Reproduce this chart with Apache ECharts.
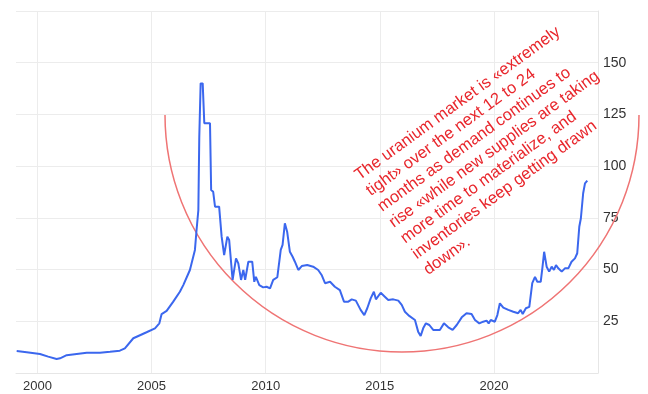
<!DOCTYPE html>
<html>
<head>
<meta charset="utf-8">
<script src="https://cdn.jsdelivr.net/npm/echarts@6/dist/echarts.min.js"></script>
<style>
  html, body { margin: 0; padding: 0; background: #fff; }
  #main { width: 648px; height: 394px; }
</style>
</head>
<body>
<div id="main"></div>
<script>
// uranium spot price (year, USD/lb)
var years = [1999.09, 1999.53, 2000.11, 2000.47, 2000.84, 2000.99, 2001.28, 2001.72, 2002.16, 2002.74,
  2003.18, 2003.61, 2003.83, 2004.20, 2004.42, 2004.78, 2005.15, 2005.34, 2005.44, 2005.66,
  2005.95, 2006.24, 2006.39, 2006.68, 2006.90, 2006.97, 2007.05, 2007.09, 2007.15, 2007.24,
  2007.31, 2007.56, 2007.61, 2007.70, 2007.78, 2007.96, 2008.07, 2008.18, 2008.32, 2008.40,
  2008.55, 2008.70, 2008.80, 2008.92, 2009.02, 2009.10, 2009.24, 2009.41, 2009.50, 2009.57,
  2009.72, 2009.89, 2010.04, 2010.19, 2010.33, 2010.51, 2010.66, 2010.74, 2010.84, 2010.94,
  2011.06, 2011.18, 2011.28, 2011.43, 2011.58, 2011.82, 2012.08, 2012.30, 2012.45, 2012.60,
  2012.82, 2013.03, 2013.25, 2013.43, 2013.62, 2013.77, 2013.95, 2014.16, 2014.32, 2014.45,
  2014.60, 2014.74, 2014.83, 2015.04, 2015.22, 2015.37, 2015.59, 2015.81, 2015.96, 2016.10,
  2016.29, 2016.54, 2016.68, 2016.79, 2016.90, 2017.02, 2017.17, 2017.34, 2017.63, 2017.81,
  2018.00, 2018.19, 2018.37, 2018.59, 2018.80, 2019.02, 2019.17, 2019.36, 2019.53, 2019.68,
  2019.77, 2019.86, 2020.04, 2020.15, 2020.26, 2020.41, 2020.63, 2020.85, 2021.06, 2021.17,
  2021.26, 2021.40, 2021.55, 2021.68, 2021.80, 2021.90, 2022.05, 2022.13, 2022.20, 2022.31,
  2022.42, 2022.53, 2022.63, 2022.72, 2022.82, 2022.97, 2023.11, 2023.26, 2023.40, 2023.55,
  2023.65, 2023.74, 2023.81, 2023.91, 2023.99, 2024.09];
var prices = [10.6, 10.0, 9.2, 7.9, 6.8, 7.1, 8.6, 9.2, 9.8, 9.8,
  10.3, 10.8, 11.9, 16.8, 17.9, 19.7, 21.6, 24.0, 28.5, 30.0,
  34.5, 39.3, 42.5, 49.8, 59.5, 69.0, 78.8, 114, 140, 140,
  120.7, 120.7, 88.5, 87.6, 80.4, 80.4, 65.9, 57.0, 65.9, 64.3,
  45.0, 55.4, 53.0, 45.0, 49.8, 45.0, 53.8, 53.8, 44.1, 46.5,
  42.5, 41.4, 41.7, 40.9, 45.0, 46.3, 59.5, 61.9, 72.4, 68.3,
  58.6, 56.2, 53.8, 49.8, 51.7, 52.2, 51.4, 49.8, 47.4, 43.4,
  44.1, 41.7, 40.1, 34.5, 34.5, 35.6, 35.0, 30.5, 28.0, 31.3,
  36.1, 39.3, 35.6, 38.8, 36.9, 35.3, 35.6, 35.0, 32.9, 29.6,
  27.6, 25.6, 20.0, 17.9, 21.6, 24.0, 23.2, 20.8, 20.8, 24.0,
  22.1, 20.8, 23.2, 26.9, 28.9, 28.5, 25.6, 24.0, 24.8, 25.3,
  24.0, 25.6, 24.8, 28.0, 33.7, 31.6, 30.5, 29.6, 28.9, 30.5,
  28.5, 31.3, 32.0, 43.4, 46.5, 44.1, 44.1, 51.4, 58.6, 51.4,
  49.0, 51.4, 49.8, 52.2, 50.6, 49.0, 50.6, 50.6, 53.8, 55.4,
  57.9, 70.7, 74.8, 86.9, 91.7, 93.0];
var yearTicks = [2000, 2005, 2010, 2015, 2020];
var priceTicks = [25, 50, 75, 100, 125, 150];
var note = [
  'The uranium market is \u00abextremely',
  'tight\u00bb over the next 12 to 24',
  'months as demand continues to',
  'rise \u00abwhile new supplies are taking',
  'more time to materialize, and',
  'inventories keep getting drawn',
  'down\u00bb.'
];

var seriesData = years.map(function (y, i) { return [y, prices[i]]; });

var myChart = echarts.init(document.getElementById('main'));
myChart.setOption({
  animation: false,
  grid: { left: 16, right: 50, top: 11, bottom: 21 },
  xAxis: {
    type: 'value',
    min: 1999.06,
    max: 2024.56,
    axisLine: { show: true, lineStyle: { color: '#e6e6e6' } },
    axisTick: { show: false, customValues: yearTicks },
    axisLabel: {
      customValues: yearTicks,
      color: '#333',
      fontSize: 13,
      fontFamily: 'Liberation Sans',
      margin: 7,
      formatter: function (v) { return String(v); }
    },
    splitLine: { show: true, lineStyle: { color: '#ececec' } }
  },
  yAxis: {
    type: 'value',
    position: 'right',
    min: 0,
    max: 175,
    interval: 25,
    axisLine: { show: true, lineStyle: { color: '#e6e6e6' } },
    axisTick: { show: false },
    axisLabel: {
      color: '#333',
      fontSize: 14,
      fontFamily: 'Liberation Sans',
      margin: 5,
      formatter: function (v) { return priceTicks.indexOf(v) >= 0 ? String(v) : ''; }
    },
    splitLine: { show: true, lineStyle: { color: '#ececec' } }
  },
  series: [{
    type: 'line',
    data: seriesData,
    showSymbol: false,
    lineStyle: { color: '#3b67ee', width: 2 },
    z: 3
  }],
  graphic: [{
    type: 'arc',
    shape: { cx: 402, cy: 115, r: 237, startAngle: 0, endAngle: Math.PI, clockwise: true },
    style: { stroke: '#ef7474', lineWidth: 1.5, fill: null },
    z: 2
  }, {
    type: 'text',
    x: 351,
    y: 169,
    rotation: 36 * Math.PI / 180,
    style: {
      text: note.join('\n'),
      fill: '#e8262c',
      fontSize: 16.5,
      fontFamily: 'Liberation Sans',
      lineHeight: 19.5,
      align: 'left',
      verticalAlign: 'top'
    },
    z: 4
  }]
});
</script>
</body>
</html>
